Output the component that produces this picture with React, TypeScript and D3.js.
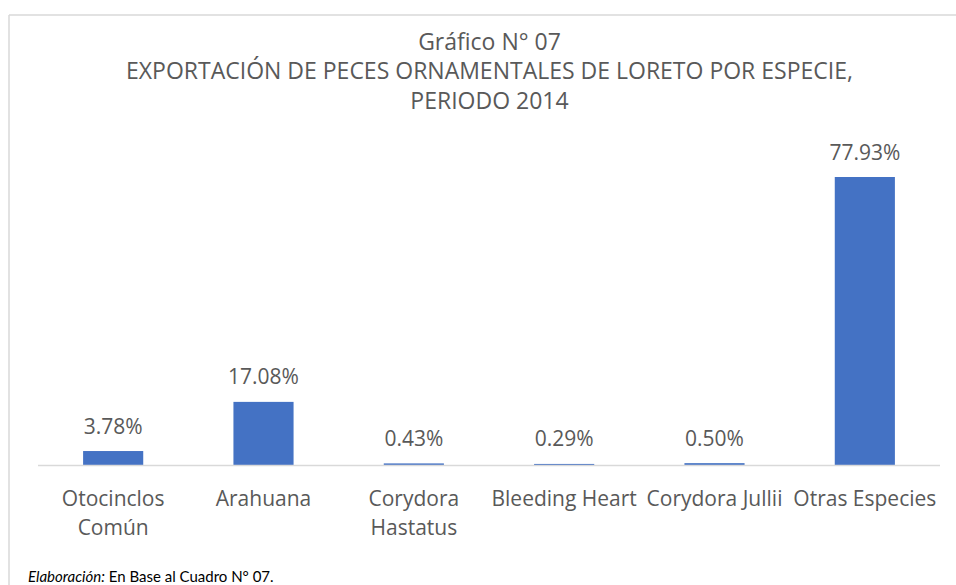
import * as d3 from 'd3'

const categories = [
  'Otocinclos Común',
  'Arahuana',
  'Corydora Hastatus',
  'Bleeding Heart',
  'Corydora Jullii',
  'Otras Especies',
]
const categoryLines = [
  ['Otocinclos', 'Común'],
  ['Arahuana'],
  ['Corydora', 'Hastatus'],
  ['Bleeding Heart'],
  ['Corydora Jullii'],
  ['Otras Especies'],
]
const shares = [3.78, 17.08, 0.43, 0.29, 0.5, 77.93]
const titleLines = [
  'Gráfico N° 07',
  'EXPORTACIÓN DE PECES ORNAMENTALES DE LORETO POR ESPECIE,',
  'PERIODO 2014',
]

const W = 956
const H = 585
const FONT = '"Open Sans", sans-serif'
const TEXT = '#595959'

export default function App() {
  const x = d3.scaleBand().domain(categories).range([38, 940]).paddingInner(0.6).paddingOuter(0.3)
  const y = d3.scaleLinear().domain([0, 77.93]).range([465, 177])

  const titleY = [50, 79, 109]

  return (
    <svg
      width={W}
      height={H}
      style={{ position: 'absolute', left: 0, top: 0, background: '#fff' }}
      fontFamily={FONT}
    >
      <rect x={0} y={0} width={W} height={H} fill="#fff" />
      {/* chart frame */}
      <line x1={9} x2={W} y1={15} y2={15} stroke="#d9d9d9" strokeWidth={1.5} />
      <line x1={9} x2={9} y1={15} y2={H} stroke="#d9d9d9" strokeWidth={1.5} />

      {titleLines.map((t, i) => (
        <text
          key={t}
          x={489.5}
          y={titleY[i]}
          textAnchor="middle"
          fontSize={23}
          fill={TEXT}
        >
          {t}
        </text>
      ))}

      {categories.map((c, i) => (
        <g key={c}>
          <rect
            x={x(c)}
            y={y(shares[i])}
            width={x.bandwidth()}
            height={y(0) - y(shares[i])}
            fill="#4472c4"
          />
          <text
            x={(x(c) as number) + x.bandwidth() / 2}
            y={y(shares[i]) - 17.5}
            textAnchor="middle"
            fontSize={21}
            fill={TEXT}
          >
            {shares[i].toFixed(2) + '%'}
          </text>
          {categoryLines[i].map((l, j) => (
            <text
              key={l}
              x={(x(c) as number) + x.bandwidth() / 2}
              y={506 + j * 29}
              textAnchor="middle"
              fontSize={21}
              fill={TEXT}
            >
              {l}
            </text>
          ))}
        </g>
      ))}

      <line x1={38} x2={940} y1={465.5} y2={465.5} stroke="#d9d9d9" strokeWidth={1.5} />

      <text x={28} y={582} fontSize={15} fill="#000" fontFamily="Lato, sans-serif">
        <tspan fontStyle="italic">Elaboración:</tspan>
        <tspan> En Base al Cuadro N° 07.</tspan>
      </text>
    </svg>
  )
}
